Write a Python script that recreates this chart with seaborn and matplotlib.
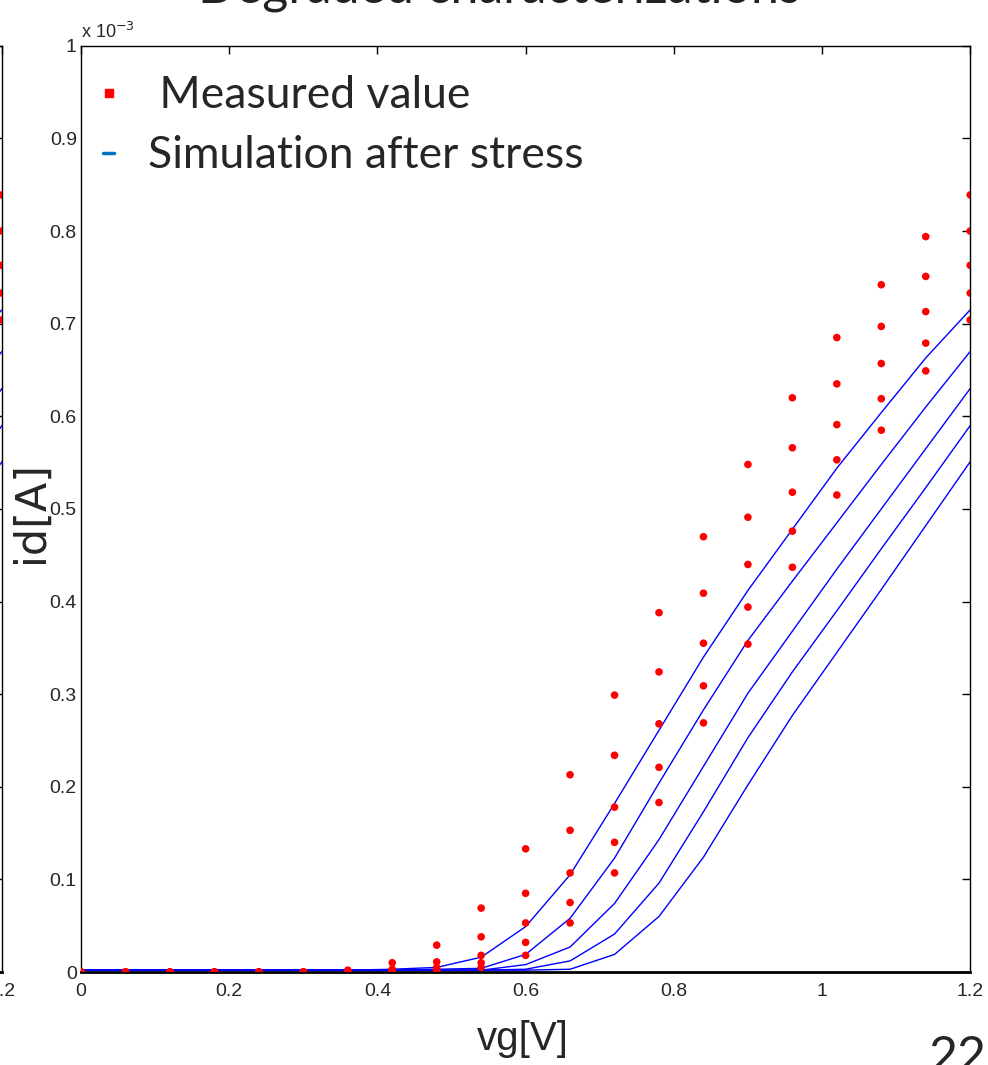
import numpy as np
import pandas as pd
import seaborn as sns
import matplotlib.pyplot as plt
from matplotlib.lines import Line2D

# gate voltage steps (V)
vg = [0.0, 0.06, 0.12, 0.18, 0.24, 0.30, 0.36, 0.42, 0.48, 0.54, 0.60,
      0.66, 0.72, 0.78, 0.84, 0.90, 0.96, 1.02, 1.08, 1.14, 1.20]

# measured drain current, units of 1e-3 A
meas_1 = [0, 0, 0, 0, 0, 0, 0.002, 0.010, 0.029, 0.069, 0.133,
          0.213, 0.299, 0.388, 0.470, 0.548, 0.620, 0.685, 0.742, 0.794, 0.839]
meas_2 = [0, 0, 0, 0, 0, 0, 0.001, 0.003, 0.011, 0.038, 0.085,
          0.153, 0.234, 0.324, 0.409, 0.491, 0.566, 0.635, 0.697, 0.751, 0.800]
meas_3 = [0, 0, 0, 0, 0, 0, 0, 0.001, 0.005, 0.018, 0.053,
          0.107, 0.178, 0.268, 0.355, 0.440, 0.518, 0.591, 0.657, 0.713, 0.763]
meas_4 = [0, 0, 0, 0, 0, 0, 0, 0, 0.002, 0.010, 0.032,
          0.075, 0.140, 0.221, 0.309, 0.394, 0.476, 0.553, 0.619, 0.679, 0.733]
meas_5 = [0, 0, 0, 0, 0, 0, 0, 0, 0, 0.005, 0.018,
          0.053, 0.107, 0.183, 0.269, 0.354, 0.437, 0.515, 0.585, 0.649, 0.704]

# simulation after stress, units of 1e-3 A
sim_1 = [0.002, 0.002, 0.002, 0.002, 0.002, 0.002, 0.002, 0.003, 0.005, 0.016, 0.049,
         0.105, 0.182, 0.261, 0.340, 0.412, 0.478, 0.544, 0.604, 0.663, 0.715]
sim_2 = [0.002, 0.002, 0.002, 0.002, 0.002, 0.002, 0.002, 0.002, 0.003, 0.004, 0.019,
         0.058, 0.123, 0.204, 0.283, 0.358, 0.422, 0.485, 0.548, 0.610, 0.670]
sim_3 = [0.002, 0.002, 0.002, 0.002, 0.002, 0.002, 0.002, 0.002, 0.002, 0.002, 0.008,
         0.027, 0.074, 0.143, 0.222, 0.301, 0.368, 0.435, 0.500, 0.565, 0.630]
sim_4 = [0.002, 0.002, 0.002, 0.002, 0.002, 0.002, 0.002, 0.002, 0.002, 0.002, 0.003,
         0.012, 0.041, 0.096, 0.173, 0.253, 0.324, 0.390, 0.457, 0.523, 0.590]
sim_5 = [0.002, 0.002, 0.002, 0.002, 0.002, 0.002, 0.002, 0.002, 0.002, 0.002, 0.002,
         0.003, 0.019, 0.060, 0.124, 0.202, 0.277, 0.345, 0.413, 0.482, 0.551]

x_ticks = [0, 0.2, 0.4, 0.6, 0.8, 1.0, 1.2]
y_ticks = [0, 0.1, 0.2, 0.3, 0.4, 0.5, 0.6, 0.7, 0.8, 0.9, 1.0]

meas = pd.DataFrame({'vg': vg * 5,
                     'id': meas_1 + meas_2 + meas_3 + meas_4 + meas_5,
                     'run': sum([[i] * len(vg) for i in range(5)], [])})
sim = pd.DataFrame({'vg': vg * 5,
                    'id': sim_1 + sim_2 + sim_3 + sim_4 + sim_5,
                    'run': sum([[i] * len(vg) for i in range(5)], [])})

sns.set_style('white')
plt.rcParams['font.family'] = ['Liberation Sans', 'DejaVu Sans']
arial = ['Liberation Sans', 'DejaVu Sans']
calibri = ['Lato', 'DejaVu Sans']

fig = plt.figure(figsize=(9.88, 10.65), dpi=100)


def draw(ax):
    sns.lineplot(data=sim, x='vg', y='id', units='run', estimator=None,
                 color='#0000ff', linewidth=1, ax=ax, legend=False)
    sns.scatterplot(data=meas, x='vg', y='id', color='red', s=30,
                    edgecolor='none', ax=ax, legend=False, zorder=3)
    ax.set_xlim(0, 1.2)
    ax.set_ylim(0, 1.0)
    ax.set_xticks(x_ticks)
    ax.set_yticks(y_ticks)
    ax.set_xticklabels([f'{v:g}' for v in x_ticks], family=arial, fontsize=14)
    ax.set_yticklabels([f'{v:g}' for v in y_ticks], family=arial, fontsize=14)
    ax.tick_params(direction='in', top=True, right=True, length=6, width=1,
                   color='black')
    ax.tick_params(axis='x', pad=8)
    ax.tick_params(axis='y', pad=3)
    for s in ax.spines.values():
        s.set_visible(True)
        s.set_color('black')
        s.set_linewidth(1)
    ax.spines['bottom'].set_linewidth(2)
    ax.set_xlabel('')
    ax.set_ylabel('')


# partially visible neighbouring plot on the left edge
ax_l = fig.add_axes([-0.898, 0.0873, 0.9, 0.8697])
draw(ax_l)

ax = fig.add_axes([0.082, 0.0873, 0.9, 0.8697])
draw(ax)

ax.set_xlabel('vg[V]', family=arial, fontsize=29)
ax.xaxis.set_label_coords(0.497, -0.052)
ax.set_ylabel('id[A]', family=['DejaVu Sans'], fontsize=31)
ax.yaxis.set_label_coords(-0.033, 0.497)

ax.text(0.0, 1.0086, r'x 10$^{-3}$', transform=ax.transAxes, family=arial,
        fontsize=13, ha='left', va='baseline')

handles = [Line2D([], [], marker='s', color='red', linestyle='none', markersize=6),
           Line2D([], [], color='#0070c0', linewidth=2.5)]
leg = ax.legend(handles, [' Measured value', 'Simulation after stress'],
                loc='upper left', bbox_to_anchor=(0.0, 0.992), frameon=False,
                prop={'family': calibri, 'size': 32},
                handlelength=0.25, handletextpad=0.75, labelspacing=0.42,
                borderaxespad=0.1, borderpad=0.4)

fig.text(0.505, 0.998, 'Degraded characterizations', ha='center',
         va='baseline', family=calibri, fontsize=36, color='#222222')
fig.text(0.969, -0.007, '22', ha='center', va='baseline',
         family=calibri, fontsize=36)

fig.savefig('out.png', dpi=100)
